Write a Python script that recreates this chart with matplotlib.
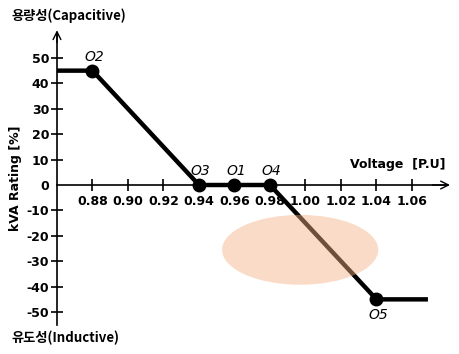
import matplotlib
matplotlib.use("Agg")
import matplotlib.pyplot as plt
from matplotlib.patches import Ellipse

plt.rcParams['font.family'] = ['DejaVu Sans', 'Noto Sans CJK KR']

# ---------------------------------------------------------------------------
# Data
# ---------------------------------------------------------------------------
curve_v = [0.86, 0.88, 0.94, 0.98, 1.04, 1.069]
curve_q = [45, 45, 0, 0, -45, -45]

point_names = ["O2", "O3", "O1", "O4", "O5"]
point_v = [0.88, 0.94, 0.96, 0.98, 1.04]
point_q = [45, 0, 0, 0, -45]

x_ticks = [0.88, 0.90, 0.92, 0.94, 0.96, 0.98, 1.00, 1.02, 1.04, 1.06]
y_ticks = [50, 40, 30, 20, 10, 0, -10, -20, -30, -40, -50]

fig = plt.figure(figsize=(4.59, 3.54), dpi=100)
ax = fig.add_axes([0, 0, 1, 1])
ax.set_xlim(0.8279, 1.0865)
ax.set_ylim(-66.5, 72.8)

# axes through origin of the chart
for s in ["top", "right"]:
    ax.spines[s].set_visible(False)
ax.spines["left"].set_position(("data", 0.86))
ax.spines["bottom"].set_position(("data", 0))
ax.spines["left"].set_bounds(-55, 60)
ax.spines["bottom"].set_bounds(0.86, 1.08)
ax.spines["left"].set_linewidth(1.2)
ax.spines["bottom"].set_linewidth(1.2)

# arrow heads
ax.annotate("", xy=(0.86, 62), xytext=(0.86, 55),
            arrowprops=dict(arrowstyle="->", lw=1.0, color="black", mutation_scale=14))
ax.annotate("", xy=(1.083, 0), xytext=(1.07, 0),
            arrowprops=dict(arrowstyle="->", lw=1.0, color="black", mutation_scale=14))

ax.set_xticks(x_ticks)
ax.set_xticklabels([f"{v:.2f}" for v in x_ticks])
ax.set_yticks(y_ticks)
ax.set_yticklabels([str(v) for v in y_ticks])
ax.tick_params(axis="both", direction="inout", length=9, width=1.2, labelsize=9)
ax.tick_params(axis="x", pad=3)
ax.tick_params(axis="y", pad=1)
for lab in ax.get_xticklabels() + ax.get_yticklabels():
    lab.set_fontweight("bold")
# no tick mark left of the spine at zero, the x axis sits there
ax.yaxis.get_major_ticks()[5].tick1line.set_visible(False)

# characteristic curve
ax.plot(curve_v, curve_q, color="black", lw=3.2, solid_capstyle="butt", zorder=3)
ax.plot(point_v, point_q, "o", color="black", markersize=9, zorder=4)

for name, v, q in zip(point_names, point_v, point_q):
    dy = -6 if q < 0 else 5.5
    ax.text(v + 0.001, q + dy, name, ha="center", va="center", fontsize=10,
            style="italic", zorder=5)

# highlighted region
ax.add_patch(Ellipse((0.997, -25.5), 0.088, 27.5, facecolor="#F4B183",
                     alpha=0.45, edgecolor="none", zorder=6))

fig.text(0.867, 0.534, "Voltage  [P.U]", fontsize=9, fontweight="bold",
         ha="center", va="center")
fig.text(0.033, 0.496, "kVA Rating [%]", fontsize=9, fontweight="bold",
         rotation=90, ha="center", va="center")
fig.text(0.025, 0.955, "용량성(Capacitive)", fontsize=9.5, fontweight="bold",
         ha="left", va="center", family=["Noto Sans CJK KR", "DejaVu Sans"])
fig.text(0.025, 0.045, "유도성(Inductive)", fontsize=9.5, fontweight="bold",
         ha="left", va="center", family=["Noto Sans CJK KR", "DejaVu Sans"])

fig.savefig("out.png", dpi=100)
